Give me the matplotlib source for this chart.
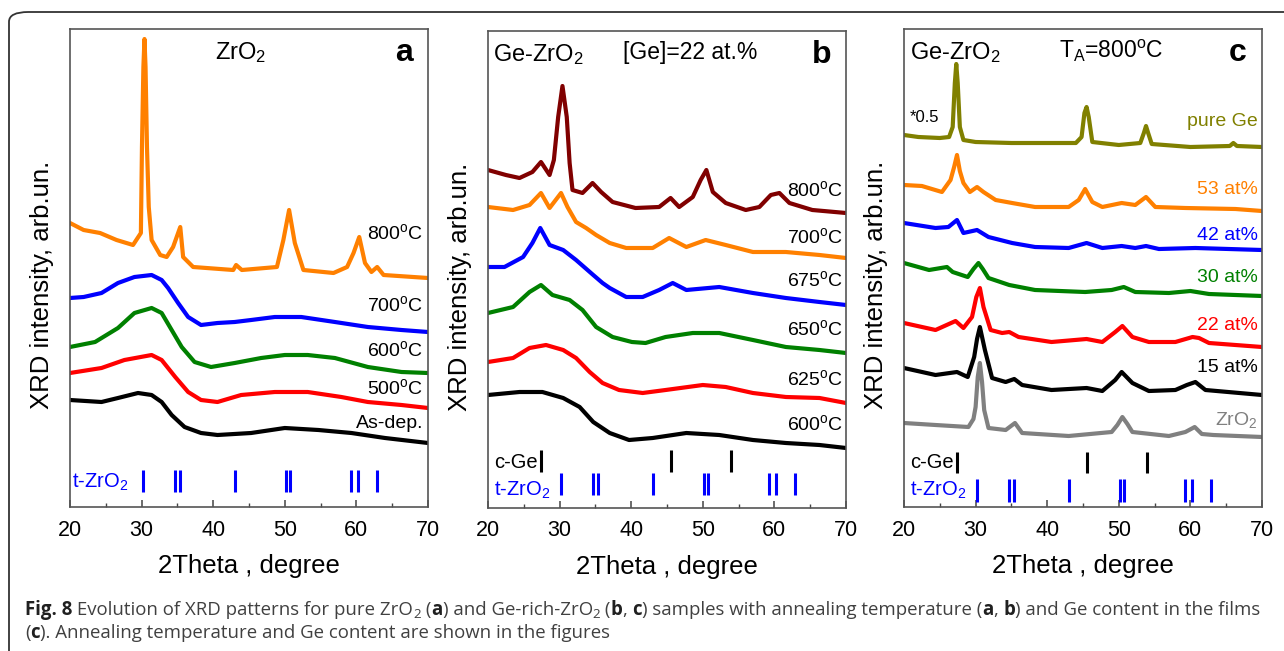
import matplotlib
matplotlib.use("Agg")
import matplotlib.pyplot as plt
import numpy as np
from matplotlib.patches import FancyBboxPatch

plt.rcParams['font.family'] = ['Liberation Sans', 'DejaVu Sans']
plt.rcParams['mathtext.fontset'] = 'custom'
plt.rcParams['mathtext.rm'] = 'Liberation Sans'
plt.rcParams['mathtext.bf'] = 'Liberation Sans:bold'

# ---- panel a: pure ZrO2, (2theta, intensity arb.un.) ----
a_800 = [(20, 284), (21.9, 277), (24.2, 274), (26.5, 267), (28.8, 262), (29.9, 274),
         (30.05, 360), (30.25, 440), (30.4, 468), (30.55, 440), (30.75, 360), (31.0, 300),
         (31.4, 267), (32.6, 252), (33.5, 250), (34.4, 260), (35.4, 280), (35.8, 250),
         (37.2, 240), (42.8, 237), (43.2, 242), (44, 237), (48.9, 240), (49.8, 267),
         (50.6, 297), (51.4, 264), (52.6, 237), (56.8, 234), (58.7, 240), (59.6, 254),
         (60.4, 270), (61.2, 244), (62.1, 235), (62.9, 240), (63.8, 232), (70, 229)]
a_700 = [(20, 209), (21.9, 210), (24.4, 214), (26.7, 224), (29.0, 230), (31.4, 232), (32.8, 227),
         (33.7, 219), (35.1, 204), (36.5, 190), (38.3, 182), (40.6, 184), (43.0, 185), (45.3, 187),
         (48.6, 190), (52.3, 190), (57.0, 185), (61.6, 180), (66.3, 177), (70, 175)]
a_600 = [(20, 160), (23.5, 165), (26.7, 179), (29.0, 194), (31.4, 199), (32.8, 194), (34.2, 177),
         (35.6, 160), (37.4, 145), (39.7, 140), (43.0, 144), (46.7, 149), (50.0, 152), (53.2, 152),
         (57.0, 149), (61.6, 140), (66.3, 135), (70, 134)]
a_500 = [(20, 134), (24.4, 139), (27.6, 147), (31.4, 152), (32.8, 147), (34.7, 130), (36.5, 115),
         (38.3, 107), (40.6, 105), (43.9, 112), (48.6, 115), (53.2, 115), (57.9, 110), (61.6, 105),
         (66.3, 102), (70, 99)]
a_asdep = [(20, 107), (24.4, 105), (26.7, 109), (29.5, 114), (31.4, 112), (32.8, 105), (34.2, 92),
           (36.0, 80), (38.3, 74), (40.6, 72), (45.3, 74), (50.0, 79), (54.7, 77), (59.3, 74),
           (64.0, 69), (70, 64)]

# ---- panel b: Ge-ZrO2 [Ge]=22 at.% ----
b_800 = [(20, 338), (22.5, 333), (24.4, 330), (26.2, 336), (27.4, 346), (28.6, 333), (29.2, 348),
         (29.8, 391), (30.4, 422), (31.0, 391), (31.4, 345), (31.8, 318), (33.2, 315), (34.6, 325),
         (35.8, 316), (37.4, 306), (40.6, 300), (43.9, 301), (45.5, 310), (46.7, 301), (48.6, 311),
         (49.7, 328), (50.5, 338), (51.4, 316), (53.2, 305), (56.0, 298), (57.9, 301), (59.5, 313),
         (60.7, 315), (62.1, 305), (65.3, 298), (70, 295)]
b_700 = [(20, 301), (23.5, 298), (25.8, 303), (27.4, 315), (28.6, 300), (30.2, 315), (31.1, 301),
         (32.3, 286), (33.7, 280), (35.1, 273), (37.0, 265), (39.3, 260), (43.0, 260), (45.3, 270),
         (47.7, 261), (50.4, 268), (53.2, 263), (57.0, 256), (61.6, 256), (66.3, 253), (70, 250)]
b_675 = [(20, 241), (22.3, 241), (24.9, 251), (26.2, 265), (27.3, 280), (28.6, 263), (30.5, 258),
         (32.3, 248), (34.7, 233), (36.0, 225), (37.0, 220), (39.3, 211), (41.6, 211), (43.9, 218),
         (45.8, 225), (47.7, 218), (52.3, 221), (57.0, 215), (61.6, 210), (66.3, 206), (70, 203)]
b_650 = [(20, 195), (23.5, 201), (25.8, 216), (27.4, 223), (29.0, 213), (31.4, 208), (33.2, 198),
         (35.1, 181), (37.4, 171), (40.1, 166), (42.0, 165), (44.8, 171), (48.6, 175), (52.3, 175),
         (57.0, 168), (61.6, 161), (66.3, 158), (70, 155)]
b_625 = [(20, 146), (23.5, 150), (25.8, 160), (28.1, 163), (30.5, 158), (32.3, 150), (34.2, 136),
         (36.0, 125), (38.3, 118), (41.6, 115), (44.8, 118), (50.0, 123), (53.2, 121), (57.0, 115),
         (61.6, 111), (66.3, 110), (70, 105)]
b_600 = [(20, 113), (24.4, 116), (27.6, 116), (30.5, 110), (32.8, 101), (34.7, 86), (37.0, 75),
         (39.7, 68), (43.0, 70), (47.7, 75), (52.3, 73), (57.0, 68), (61.6, 65), (66.3, 63), (70, 60)]

# ---- panel c: Ge-ZrO2 annealed at 800 C, various Ge content ----
c_pure_ge = [(20, 372), (22, 370), (25, 369), (26.3, 370), (26.8, 380), (27.1, 424), (27.3, 443),
             (27.5, 424), (27.8, 380), (28.3, 367), (30, 365), (35, 364), (44, 364), (44.8, 370),
             (45.2, 394), (45.5, 400), (45.8, 390), (46.3, 365), (50, 362), (53, 364), (53.5, 374),
             (53.8, 381), (54.1, 374), (54.6, 363), (60, 360), (65.5, 361), (66, 364), (66.5, 361),
             (70, 360)]
c_53 = [(20, 322), (22.5, 321), (25.3, 315), (26.5, 327), (27.0, 340), (27.4, 352), (27.8, 336),
        (28.3, 324), (29.2, 315), (30.2, 320), (31.1, 315), (32.8, 307), (35.1, 304), (38.3, 300),
        (43.0, 300), (44.4, 307), (45.3, 318), (46.3, 305), (47.7, 300), (50.4, 304), (52.3, 302),
        (53.8, 310), (55.1, 300), (59.3, 299), (66.3, 298), (70, 296)]
c_42 = [(20, 284), (24.4, 279), (26.2, 280), (27.4, 287), (28.3, 274), (30.2, 277), (31.8, 270),
        (35.1, 264), (38.3, 260), (43.0, 259), (45.5, 264), (47.7, 259), (50.4, 261), (52.3, 259),
        (53.8, 261), (55.6, 258), (60.7, 259), (70, 257)]
c_30 = [(20, 244), (23.5, 237), (26.0, 240), (26.8, 235), (28.9, 230), (29.7, 238), (30.4, 244),
        (31.0, 238), (31.8, 229), (34.7, 222), (38.3, 217), (45.3, 215), (49.0, 217), (50.7, 220),
        (52.3, 215), (57.0, 214), (60.0, 216), (62.6, 213), (70, 211)]
c_22 = [(20, 184), (24.4, 177), (27.2, 186), (28.3, 179), (29.5, 190), (30.1, 210), (30.6, 219),
        (31.1, 200), (32.1, 177), (33.7, 174), (34.7, 175), (36.0, 170), (40.6, 165), (45.5, 168),
        (47.7, 165), (49.5, 175), (50.5, 181), (51.9, 170), (54.2, 165), (57.9, 165), (60.3, 170),
        (61.2, 169), (62.6, 164), (70, 160)]
c_15 = [(20, 139), (24.4, 132), (27.4, 135), (28.9, 130), (29.8, 150), (30.2, 168), (30.6, 180),
        (31.3, 157), (32.3, 129), (34.2, 125), (35.4, 128), (36.5, 122), (40.6, 117), (45.5, 119),
        (47.7, 116), (49.5, 127), (50.4, 135), (51.9, 124), (54.2, 116), (57.9, 117), (59.5, 122),
        (60.7, 125), (62.1, 117), (70, 112)]
c_zro2 = [(20, 84), (24.4, 82), (29.0, 80), (29.7, 88), (30.0, 100), (30.3, 130), (30.6, 144),
          (30.9, 125), (31.2, 97), (31.8, 79), (34.2, 77), (35.5, 84), (36.5, 74), (43.0, 71),
          (49.0, 75), (49.8, 82), (50.5, 90), (51.2, 83), (51.9, 75), (57.0, 71), (59.3, 75),
          (60.6, 80), (61.6, 73), (63.2, 72), (70, 70)]

# reference peak positions
tzro2_peaks = [30.2, 34.6, 35.3, 43.0, 50.2, 50.7, 59.3, 60.2, 62.9]
cge_peaks = [27.4, 45.5, 53.9]

# curve labels (text, intensity at label)
DEG = "$\\mathregular{^o}$C"
a_labels = [("800" + DEG, 274), ("700" + DEG, 202), ("600" + DEG, 157), ("500" + DEG, 119),
            ("As-dep.", 84)]
b_labels = [("800" + DEG, 318), ("700" + DEG, 271), ("675" + DEG, 228), ("650" + DEG, 179),
            ("625" + DEG, 129), ("600" + DEG, 84)]
c_labels = [("pure Ge", 385), ("53 at%", 317), ("42 at%", 272), ("30 at%", 229),
            ("22 at%", 182), ("15 at%", 140), ("ZrO$\\mathregular{_2}$", 87)]

ORANGE = "#ff8000"
BLUE = "#0000ff"
GREEN = "#008000"
RED = "#ff0000"
DARKRED = "#800000"
OLIVE = "#808000"
GREY = "#808080"

a_series = [(a_800, ORANGE), (a_700, BLUE), (a_600, GREEN), (a_500, RED), (a_asdep, "black")]
b_series = [(b_800, DARKRED), (b_700, ORANGE), (b_675, BLUE), (b_650, GREEN), (b_625, RED),
            (b_600, "black")]
c_series = [(c_pure_ge, OLIVE), (c_53, ORANGE), (c_42, BLUE), (c_30, GREEN), (c_22, RED),
            (c_15, "black"), (c_zro2, GREY)]

W, H = 1284, 651
fig = plt.figure(figsize=(W / 100, H / 100), dpi=100)

# rounded frame around the figure (runs off the right and bottom edges)
frame = FancyBboxPatch((9 / W, -0.2), 1.2, 1.2 - 12 / H,
                       boxstyle="round,pad=0,rounding_size=0.015",
                       transform=fig.transFigure, fill=False, ec="#333333", lw=1.3,
                       clip_on=False)
fig.patches.append(frame)


def make_axes(left, top, right, bottom):
    ax = fig.add_axes([left / W, 1 - bottom / H, (right - left) / W, (bottom - top) / H])
    ax.set_xlim(20, 70)
    ax.set_ylim(0, bottom - top)
    ax.set_xticks(np.arange(20, 71, 10))
    ax.set_xticks(np.arange(25, 70, 10), minor=True)
    ax.set_yticks([])
    ax.tick_params(axis="x", which="both", direction="in", top=False, labelsize=15.5,
                   pad=9, color="#444444")
    ax.tick_params(axis="x", which="major", length=5, width=1.1)
    ax.tick_params(axis="x", which="minor", length=3, width=1.0)
    for sp in ax.spines.values():
        sp.set_color("#555555")
        sp.set_linewidth(1.2)
    ax.set_xlabel("2Theta , degree", fontsize=18.5, labelpad=10)
    ax.set_ylabel("XRD intensity, arb.un.", fontsize=18.5)
    ax.yaxis.set_label_coords(-0.046, 0.464)
    return ax


def draw_curves(ax, series):
    for pts, col in series:
        arr = np.array(pts, dtype=float)
        ax.plot(arr[:, 0], arr[:, 1], color=col, lw=3.0, solid_joinstyle="round",
                solid_capstyle="round")


def draw_labels(ax, labels, colors, xpos=69.5):
    for (txt, yv), col in zip(labels, colors):
        ax.text(xpos, yv, txt, ha="right", va="center", fontsize=14, color=col)


def draw_sticks(ax, peaks, y0, y1, col):
    ax.vlines(peaks, y0, y1, color=col, lw=2.2)


def panel_titles(ax, left_txt, mid_txt, mid_x, letter, left_x):
    ax.text(left_x, 0.95, left_txt, transform=ax.transAxes, fontsize=17,
            ha="left", va="center")
    if mid_txt:
        ax.text(mid_x, 0.955, mid_txt, transform=ax.transAxes, fontsize=16.5,
                ha="center", va="center")
    ax.text(0.933, 0.95, letter, transform=ax.transAxes, fontsize=23, fontweight="bold",
            ha="center", va="center")


ZRO2 = "ZrO$\\mathregular{_2}$"
TZRO2 = "t-ZrO$\\mathregular{_2}$"

# panel a
ax_a = make_axes(70, 29, 428, 507)
draw_curves(ax_a, a_series)
draw_labels(ax_a, a_labels, ["black"] * 5, xpos=69.3)
draw_sticks(ax_a, tzro2_peaks, 15, 37, BLUE)
ax_a.text(20.3, 25, TZRO2, color=BLUE, fontsize=14.5, va="center")
panel_titles(ax_a, ZRO2, None, 0, "a", 0.405)

# panel b
ax_b = make_axes(488, 31, 846, 508)
draw_curves(ax_b, b_series)
draw_labels(ax_b, b_labels, ["black"] * 6, xpos=69.6)
draw_sticks(ax_b, cge_peaks, 36, 58, "black")
draw_sticks(ax_b, tzro2_peaks, 13, 35, BLUE)
ax_b.text(27.0, 46, "c-Ge", color="black", fontsize=14.5, va="center", ha="right")
ax_b.text(20.9, 18, TZRO2, color=BLUE, fontsize=14.5, va="center")
panel_titles(ax_b, "Ge-" + ZRO2, "[Ge]=22 at.%", 0.564, "b", 0.014)

# panel c
ax_c = make_axes(904, 29, 1262, 507)
draw_curves(ax_c, c_series)
draw_labels(ax_c, c_labels, [col for _, col in c_series], xpos=69.4)
draw_sticks(ax_c, cge_peaks, 34, 55, "black")
draw_sticks(ax_c, tzro2_peaks, 5, 28, BLUE)
ax_c.text(27.0, 45, "c-Ge", color="black", fontsize=14.5, va="center", ha="right")
ax_c.text(20.9, 17, TZRO2, color=BLUE, fontsize=14.5, va="center")
ax_c.text(20.8, 389, "*0.5", color="black", fontsize=12, va="center")
panel_titles(ax_c, "Ge-" + ZRO2, "T$\\mathregular{_A}$=800" + DEG, 0.58, "c", 0.017)

# caption, drawn piece by piece (n = normal, b = bold, s = subscript)
cap_line1 = [("Fig. 8", "b"), (" Evolution of XRD patterns for pure ZrO", "n"), ("2", "s"),
             (" (", "n"), ("a", "b"), (") and Ge-rich-ZrO", "n"), ("2", "s"), (" (", "n"),
             ("b", "b"), (", ", "n"), ("c", "b"), (") samples with annealing temperature (", "n"),
             ("a", "b"), (", ", "n"), ("b", "b"), (") and Ge content in the films", "n")]
cap_line2 = [("(", "n"), ("c", "b"), ("). Annealing temperature and Ge content are shown in the figures", "n")]

renderer = fig.canvas.get_renderer()
CAP_SIZE = 13.4


def advance(txt, kw):
    probe = fig.text(0, 0, "|" + txt + "|", **kw)
    w1 = probe.get_window_extent(renderer).width
    probe.set_text("||")
    w2 = probe.get_window_extent(renderer).width
    probe.remove()
    return w1 - w2


def draw_caption(x_px, base_px, pieces):
    x = x_px
    for txt, kind in pieces:
        kw = dict(family="Open Sans", color="#404040", fontsize=CAP_SIZE, va="baseline",
                  ha="left")
        y = base_px
        if kind == "b":
            kw["fontweight"] = "bold"
            kw["color"] = "#202020"
        elif kind == "s":
            kw["fontsize"] = CAP_SIZE * 0.72
            y = base_px + 3
        fig.text(x / W, 1 - y / H, txt, **kw)
        x += advance(txt, kw)


draw_caption(25, 615, cap_line1)
draw_caption(25, 638, cap_line2)

fig.savefig("out.png", dpi=100)
